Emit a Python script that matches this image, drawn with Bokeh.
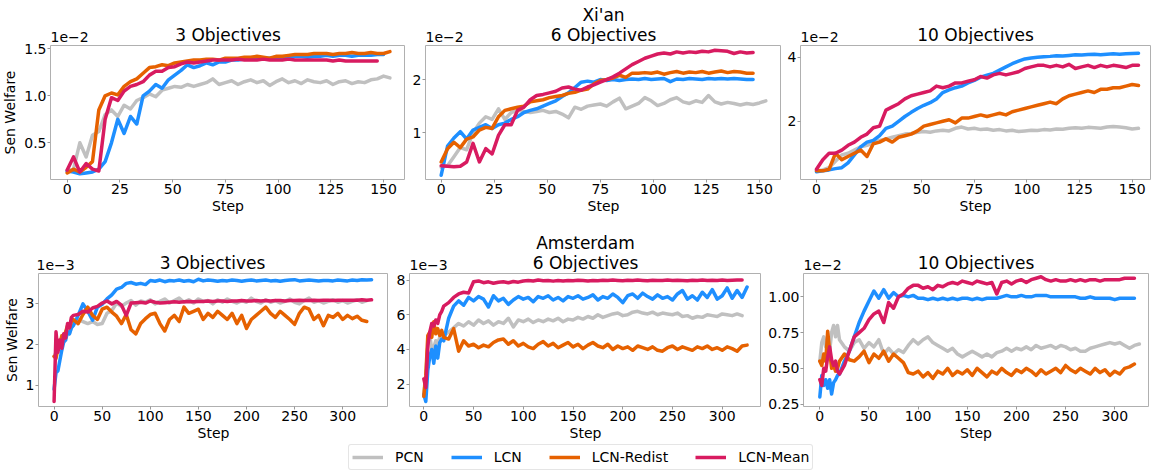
from bokeh.plotting import figure
from bokeh.layouts import column, row
from bokeh.models import Range1d, FixedTicker, PrintfTickFormatter
from bokeh.core.properties import value
from bokeh.embed import file_html
from bokeh.resources import INLINE

FONT = "DejaVu Sans"

# training steps at which the curves are sampled
STEPS_TOP = list(range(0, 154, 3))
STEPS_BOTTOM = [0, 2, 4, 6, 8, 10, 12, 14, 16, 18, 20] + list(range(25, 331, 5))

SERIES = ["PCN", "LCN", "LCN-Redist", "LCN-Mean"]
COLORS = ["#c0c0c0", "#1e8fff", "#e66100", "#d81b60"]

TICKS_TOP_X = [0, 25, 50, 75, 100, 125, 150]
TICKS_BOTTOM_X = [0, 50, 100, 150, 200, 250, 300]

CITIES = ["Xi'an", "Amsterdam"]
PANEL_TITLES = ["3 Objectives", "6 Objectives", "10 Objectives"]

# ---- Xi'an, 3 objectives (x 1e-2) ----
xian3_pcn = [0.20, 0.22, 0.50, 0.35, 0.58, 0.62, 0.80, 0.85, 0.78, 0.90,
             0.86, 0.95, 0.98, 1.02, 0.99, 1.06, 1.08, 1.10, 1.09, 1.12,
             1.10, 1.12, 1.14, 1.18, 1.12, 1.14, 1.16, 1.12, 1.15, 1.17,
             1.14, 1.16, 1.11, 1.15, 1.18, 1.14, 1.16, 1.13, 1.17, 1.15,
             1.14, 1.16, 1.12, 1.15, 1.16, 1.13, 1.15, 1.14, 1.17, 1.18,
             1.21, 1.19]
xian3_lcn = [0.20, 0.19, 0.17, 0.18, 0.19, 0.22, 0.30, 0.50, 0.75, 0.60,
             0.78, 0.70, 1.00, 1.05, 1.12, 1.08, 1.17, 1.22, 1.27, 1.33,
             1.30, 1.32, 1.35, 1.33, 1.36, 1.36, 1.38, 1.38, 1.39, 1.39,
             1.40, 1.40, 1.40, 1.41, 1.40, 1.41, 1.42, 1.42, 1.41, 1.42,
             1.42, 1.43, 1.42, 1.43, 1.43, 1.42, 1.43, 1.43, 1.43, 1.44,
             1.44]
xian3_redist = [0.18, 0.22, 0.19, 0.24, 0.30, 0.85, 1.00, 1.03, 1.01, 1.10,
                1.15, 1.18, 1.24, 1.30, 1.31, 1.33, 1.32, 1.35, 1.36, 1.37,
                1.38, 1.38, 1.39, 1.39, 1.38, 1.40, 1.40, 1.40, 1.41, 1.41,
                1.42, 1.41, 1.40, 1.42, 1.42, 1.43, 1.44, 1.44, 1.44, 1.45,
                1.45, 1.45, 1.44, 1.45, 1.45, 1.46, 1.45, 1.45, 1.46, 1.45,
                1.45, 1.47]
xian3_mean = [0.21, 0.35, 0.19, 0.28, 0.22, 0.20, 0.75, 0.98, 0.95, 1.05,
              1.10, 1.12, 1.15, 1.22, 1.26, 1.26, 1.30, 1.31, 1.34, 1.36,
              1.35, 1.36, 1.37, 1.38, 1.38, 1.38, 1.38, 1.39, 1.38, 1.38,
              1.38, 1.39, 1.38, 1.38, 1.38, 1.39, 1.38, 1.38, 1.38, 1.38,
              1.38, 1.38, 1.37, 1.38, 1.37, 1.37, 1.37, 1.37, 1.37, 1.37]

# ---- Xi'an, 6 objectives (x 1e-2) ----
xian6_pcn = [0.35, 0.38, 0.55, 0.72, 0.68, 1.00, 1.18, 1.30, 1.25, 1.45,
             1.25, 1.38, 1.42, 1.40, 1.38, 1.40, 1.42, 1.38, 1.40, 1.35,
             1.28, 1.48, 1.44, 1.50, 1.52, 1.54, 1.50, 1.58, 1.65, 1.45,
             1.50, 1.55, 1.66, 1.60, 1.51, 1.55, 1.62, 1.66, 1.58, 1.55,
             1.60, 1.57, 1.70, 1.58, 1.54, 1.57, 1.55, 1.52, 1.55, 1.53,
             1.56, 1.60]
xian6_lcn = [0.20, 0.75, 0.90, 1.02, 0.88, 1.05, 1.10, 1.15, 1.08, 1.15,
             1.18, 1.25, 1.30, 1.38, 1.42, 1.45, 1.50, 1.55, 1.60, 1.68,
             1.75, 1.85, 1.95, 1.97, 1.95, 2.00, 1.98, 2.00, 1.98, 2.00,
             2.01, 2.00, 2.02, 2.00, 2.01, 2.02, 1.96, 2.01, 2.00, 2.02,
             2.01, 2.00, 2.02, 2.01, 2.02, 2.01, 2.02, 2.01, 2.00, 2.00]
xian6_redist = [0.45, 0.70, 0.82, 0.72, 0.88, 0.92, 1.05, 1.10, 1.08, 1.30,
                1.42, 1.45, 1.48, 1.50, 1.58, 1.60, 1.62, 1.66, 1.68, 1.70,
                1.74, 1.76, 1.80, 1.82, 1.92, 1.98, 2.00, 2.03, 2.08, 2.04,
                2.12, 2.12, 2.13, 2.12, 2.14, 2.10, 2.13, 2.15, 2.12, 2.14,
                2.13, 2.15, 2.12, 2.14, 2.16, 2.13, 2.15, 2.14, 2.12, 2.12]
xian6_mean = [0.38, 0.37, 0.36, 0.37, 0.45, 0.80, 0.45, 0.70, 0.60, 0.95,
              1.15, 1.15, 1.42, 1.48, 1.62, 1.70, 1.72, 1.75, 1.78, 1.84,
              1.86, 1.82, 1.80, 1.86, 1.90, 1.95, 2.00, 2.05, 2.12, 2.20,
              2.28, 2.34, 2.40, 2.44, 2.48, 2.50, 2.48, 2.52, 2.50, 2.52,
              2.51, 2.53, 2.52, 2.55, 2.54, 2.53, 2.49, 2.52, 2.50, 2.51]

# ---- Xi'an, 10 objectives (x 1e-2) ----
xian10_pcn = [0.45, 0.48, 0.55, 0.75, 0.95, 1.00, 1.10, 1.20, 1.25, 1.32,
              1.40, 1.45, 1.50, 1.55, 1.60, 1.62, 1.66, 1.68, 1.66, 1.70,
              1.72, 1.70, 1.78, 1.82, 1.76, 1.78, 1.74, 1.76, 1.72, 1.74,
              1.70, 1.72, 1.68, 1.70, 1.72, 1.71, 1.74, 1.73, 1.76, 1.75,
              1.78, 1.80, 1.78, 1.81, 1.80, 1.78, 1.82, 1.84, 1.82, 1.80,
              1.76, 1.78]
xian10_lcn = [0.42, 0.45, 0.48, 0.52, 0.55, 0.70, 0.95, 1.20, 1.35, 1.40,
              1.55, 1.78, 1.85, 2.00, 2.15, 2.28, 2.40, 2.50, 2.58, 2.70,
              2.90, 2.98, 3.05, 3.10, 3.20, 3.28, 3.38, 3.44, 3.50, 3.60,
              3.70, 3.80, 3.88, 3.95, 3.98, 4.00, 4.02, 4.03, 4.05, 4.04,
              4.06, 4.08, 4.07, 4.09, 4.10, 4.08, 4.10, 4.11, 4.10, 4.11,
              4.12, 4.13]
xian10_redist = [0.45, 0.45, 0.50, 1.00, 0.80, 0.90, 1.00, 1.10, 0.90, 1.30,
                 1.35, 1.45, 1.35, 1.50, 1.55, 1.60, 1.70, 1.85, 1.90, 1.95,
                 2.00, 2.05, 1.95, 2.10, 2.10, 2.15, 2.20, 2.15, 2.20, 2.25,
                 2.20, 2.30, 2.35, 2.40, 2.45, 2.50, 2.55, 2.60, 2.55, 2.70,
                 2.80, 2.85, 2.90, 2.95, 2.90, 3.00, 3.00, 3.05, 3.05, 3.10,
                 3.15, 3.12]
xian10_mean = [0.50, 0.80, 1.00, 1.00, 1.10, 1.25, 1.35, 1.50, 1.60, 1.80,
               1.85, 2.35, 2.45, 2.55, 2.70, 2.80, 2.85, 2.90, 2.95, 3.10,
               3.05, 3.10, 3.20, 3.20, 3.25, 3.30, 3.40, 3.35, 3.45, 3.50,
               3.45, 3.50, 3.55, 3.65, 3.70, 3.75, 3.75, 3.70, 3.75, 3.70,
               3.78, 3.65, 3.70, 3.75, 3.68, 3.75, 3.70, 3.75, 3.72, 3.68,
               3.75, 3.75]

# ---- Amsterdam, 3 objectives (x 1e-3) ----
ams3_pcn = [1.70, 1.80, 2.00, 1.95, 2.10, 2.05, 2.20, 2.30, 2.25, 2.40, 2.50,
            2.60, 2.55, 2.50, 2.55, 2.48, 2.50, 2.75, 2.82, 3.00, 2.92,
            3.00, 3.06, 2.95, 3.05, 3.02, 3.08, 2.98, 3.04, 3.10, 3.00,
            3.06, 3.12, 3.02, 3.08, 3.00, 3.10, 3.04, 3.06, 2.98, 3.08,
            3.02, 3.10, 3.04, 3.00, 3.06, 3.02, 3.12, 3.04, 3.00, 3.08,
            3.02, 3.06, 3.00, 3.04, 3.10, 3.02, 2.98, 3.06, 3.12, 3.02,
            3.06, 3.00, 3.04, 3.08, 3.02, 3.06, 3.00, 3.04, 3.08, 3.02,
            3.06]
ams3_lcn = [0.90, 1.30, 1.35, 1.60, 1.85, 2.05, 2.10, 2.30, 2.25, 2.40, 2.45,
            2.70, 2.98, 2.80, 2.58, 2.90, 2.97, 3.10, 3.20, 3.34, 3.38,
            3.48, 3.50, 3.46, 3.48, 3.45, 3.55, 3.53, 3.56, 3.52, 3.55,
            3.54, 3.56, 3.53, 3.55, 3.52, 3.58, 3.54, 3.56, 3.55, 3.53,
            3.55, 3.54, 3.56, 3.55, 3.53, 3.55, 3.56, 3.54, 3.55, 3.56,
            3.54, 3.55, 3.53, 3.55, 3.56, 3.57, 3.54, 3.55, 3.56, 3.55,
            3.54, 3.55, 3.55, 3.54, 3.56, 3.55, 3.54, 3.56, 3.55, 3.57,
            3.56, 3.57]
ams3_redist = [1.70, 1.65, 1.90, 2.00, 2.20, 2.15, 2.30, 2.45, 2.40, 2.55, 2.60,
               2.50, 2.72, 2.90, 2.70, 2.60, 2.85, 2.90, 2.78, 2.68, 2.50,
               2.72, 2.35, 2.25, 2.50, 2.62, 2.72, 2.75, 2.50, 2.32, 2.60,
               2.70, 2.55, 2.90, 2.75, 2.80, 2.85, 2.60, 2.75, 2.65, 2.80,
               2.70, 2.60, 2.75, 2.50, 2.70, 2.38, 2.60, 2.70, 2.80, 2.90,
               2.75, 2.65, 2.80, 2.70, 2.60, 2.48, 2.75, 2.90, 2.85, 2.60,
               2.70, 2.45, 2.70, 2.65, 2.75, 2.60, 2.70, 2.62, 2.68, 2.58,
               2.55]
ams3_mean = [0.60, 2.30, 1.80, 2.10, 1.90, 2.25, 2.15, 2.50, 2.40, 2.65, 2.70,
             2.72, 2.80, 2.78, 2.88, 2.92, 3.00, 3.05, 2.98, 3.04, 2.95,
             2.70, 3.00, 3.01, 3.02, 3.00, 3.05, 3.02, 3.00, 3.01, 3.02,
             3.03, 3.02, 3.03, 3.04, 3.03, 3.04, 3.04, 3.05, 3.04, 3.05,
             3.05, 3.04, 3.05, 3.05, 3.06, 3.05, 3.05, 3.06, 3.05, 3.06,
             3.05, 3.06, 3.06, 3.05, 3.06, 3.06, 3.07, 3.06, 3.06, 3.07,
             3.06, 3.07, 3.07, 3.06, 3.07, 3.07, 3.07, 3.07, 3.07, 3.08,
             3.07, 3.08]

# ---- Amsterdam, 6 objectives (x 1e-3) ----
ams6_pcn = [1.50, 2.50, 4.20, 4.80, 4.00, 4.10, 4.50, 4.30, 4.70, 4.90, 4.80,
            5.00, 5.25, 5.50, 5.35, 5.60, 5.40, 5.70, 5.50, 5.65, 5.40,
            5.60, 5.50, 5.80, 5.30, 5.70, 5.60, 5.75, 5.55, 5.70, 5.60,
            5.75, 5.65, 5.80, 5.60, 5.75, 5.70, 5.85, 5.75, 5.90, 5.80,
            6.00, 5.85, 5.95, 6.05, 6.10, 5.95, 6.00, 6.15, 6.20, 6.10,
            6.05, 6.15, 6.00, 6.10, 6.05, 6.00, 6.10, 5.90, 5.95, 5.80,
            5.90, 5.85, 6.00, 5.95, 5.90, 6.05, 6.00, 5.95, 6.05, 5.95]
ams6_lcn = [1.40, 1.00, 2.80, 3.60, 4.00, 3.20, 4.20, 3.50, 4.40, 4.60, 4.50,
            5.80, 6.50, 6.80, 6.55, 7.00, 6.80, 7.05, 6.90, 6.45, 7.10,
            6.80, 6.95, 6.60, 6.85, 7.05, 6.90, 7.00, 6.75, 7.05, 6.95,
            7.10, 6.85, 7.00, 6.80, 7.05, 6.95, 7.10, 6.90, 7.00, 7.15,
            6.85, 7.05, 6.95, 7.20, 7.00, 6.70, 7.10, 7.20, 6.95, 7.25,
            7.05, 6.90, 7.15, 6.95, 7.05, 6.85, 7.20, 7.40, 6.90, 7.10,
            6.85, 7.30, 7.00, 7.45, 6.90, 7.10, 7.55, 6.95, 7.40, 7.00,
            7.60]
ams6_redist = [1.30, 2.50, 4.80, 5.00, 4.70, 5.60, 4.90, 5.20, 4.80, 5.10, 4.70,
               4.60, 5.20, 3.90, 4.50, 4.20, 4.30, 4.10, 4.25, 4.15, 4.40,
               4.55, 4.60, 4.30, 4.50, 4.20, 4.35, 4.15, 4.05, 4.30, 4.45,
               4.20, 4.35, 4.10, 4.25, 4.40, 4.15, 4.30, 4.05, 4.25, 4.40,
               4.20, 4.10, 4.30, 4.00, 4.20, 4.05, 4.15, 3.95, 4.20, 4.10,
               4.00, 4.15, 3.95, 3.90, 4.10, 4.20, 4.00, 4.15, 4.05, 3.95,
               4.15, 4.05, 4.20, 4.00, 4.10, 3.95, 4.15, 4.05, 3.90, 4.20,
               4.25]
ams6_mean = [2.30, 1.80, 4.20, 5.00, 5.50, 5.35, 5.70, 5.50, 6.00, 6.20, 6.50,
             6.70, 7.00, 7.20, 7.30, 7.25, 7.90, 7.95, 7.85, 7.90, 7.82,
             7.88, 7.90, 7.85, 7.92, 7.88, 7.95, 7.98, 7.95, 8.00, 7.96,
             7.98, 7.94, 7.97, 7.95, 7.98, 7.96, 7.99, 7.97, 7.95, 7.98,
             7.96, 7.99, 7.97, 8.00, 7.98, 7.96, 7.99, 7.97, 8.00, 7.98,
             7.96, 7.99, 7.97, 7.98, 8.00, 7.97, 7.99, 7.98, 7.96, 7.99,
             7.98, 8.00, 7.97, 7.99, 7.98, 8.00, 7.98, 7.99, 8.00, 8.00]

# ---- Amsterdam, 10 objectives (x 1e-2) ----
ams10_pcn = [0.55, 0.68, 0.72, 0.65, 0.70, 0.62, 0.75, 0.80, 0.72, 0.80, 0.70,
             0.65, 0.62, 0.68, 0.70, 0.64, 0.68, 0.65, 0.70, 0.60, 0.64,
             0.60, 0.63, 0.61, 0.66, 0.70, 0.67, 0.70, 0.72, 0.68, 0.66,
             0.64, 0.62, 0.64, 0.60, 0.58, 0.60, 0.62, 0.60, 0.58, 0.60,
             0.58, 0.61, 0.62, 0.64, 0.62, 0.64, 0.63, 0.65, 0.63, 0.66,
             0.64, 0.65, 0.66, 0.64, 0.66, 0.65, 0.63, 0.64, 0.62, 0.62,
             0.64, 0.65, 0.66, 0.67, 0.68, 0.67, 0.68, 0.66, 0.64, 0.66,
             0.67]
ams10_lcn = [0.30, 0.45, 0.38, 0.42, 0.36, 0.42, 0.32, 0.40, 0.42, 0.45, 0.46,
             0.55, 0.62, 0.72, 0.82, 0.90, 0.97, 1.04, 0.99, 1.05, 0.99,
             1.03, 1.00, 1.01, 1.00, 1.01, 0.99, 0.99, 0.98, 0.99, 0.98,
             0.99, 0.98, 0.99, 0.98, 0.99, 0.99, 0.98, 0.99, 0.98, 0.99,
             0.99, 0.99, 1.00, 1.01, 1.00, 1.00, 1.01, 1.00, 1.00, 1.01,
             1.01, 1.01, 1.00, 1.00, 1.00, 1.00, 1.00, 1.00, 0.99, 0.99,
             1.00, 0.99, 0.99, 0.99, 0.99, 0.98, 0.99, 0.99, 0.99, 0.99]
ams10_redist = [0.55, 0.52, 0.60, 0.55, 0.76, 0.62, 0.50, 0.52, 0.48, 0.50, 0.55,
                0.60, 0.56, 0.55, 0.58, 0.62, 0.54, 0.60, 0.57, 0.62, 0.55,
                0.60, 0.57, 0.54, 0.47, 0.46, 0.48, 0.44, 0.47, 0.43, 0.48,
                0.46, 0.50, 0.45, 0.48, 0.46, 0.49, 0.45, 0.50, 0.47, 0.44,
                0.48, 0.46, 0.50, 0.47, 0.45, 0.49, 0.47, 0.50, 0.48, 0.45,
                0.49, 0.46, 0.48, 0.50, 0.47, 0.52, 0.49, 0.47, 0.50, 0.48,
                0.46, 0.50, 0.47, 0.49, 0.45, 0.48, 0.46, 0.50, 0.51, 0.53]
ams10_mean = [0.42, 0.38, 0.50, 0.48, 0.58, 0.65, 0.56, 0.52, 0.55, 0.48, 0.46,
              0.52, 0.62, 0.72, 0.75, 0.78, 0.84, 0.88, 0.90, 0.82, 0.96,
              0.92, 1.00, 1.02, 1.06, 1.08, 1.08, 1.06, 1.07, 1.05, 1.08,
              1.07, 1.09, 1.10, 1.09, 1.11, 1.10, 1.09, 1.11, 1.10, 1.09,
              1.10, 1.02, 1.10, 1.11, 1.09, 1.11, 1.12, 1.10, 1.12, 1.13,
              1.14, 1.12, 1.11, 1.12, 1.11, 1.11, 1.12, 1.11, 1.12, 1.11,
              1.12, 1.12, 1.11, 1.12, 1.12, 1.12, 1.12, 1.13, 1.13, 1.13]

FRAME_COLOR = "#b0b0b0"
PAGE_W = 1151

# layout geometry: (left border, frame width, right border) per panel.
# The first top panel's y axis lives in its own full-height strip so that
# its top tick label can rise above the frame next to the header.
TOP_AXIS_W = 50
TOP_GEOM = [(0, 355, 0), (20, 356, 0), (19, 350, 1)]
BOT_GEOM = [(36, 352, 0), (21, 352, 0), (42, 345, 3)]
TOP_HEADER_H, TOP_FRAME_H, TOP_BOTTOM_H = 44, 134, 45
BOT_HEADER_H, BOT_FRAME_H, BOT_BOTTOM_H = 48, 133, 38
LEGEND_H = 26
# the text glyph draws its alphabetic baseline this many px below y
BASELINE_DROP = 7


def style_axis(ax):
    ax.axis_line_color = None
    ax.major_tick_line_color = "#999999"
    ax.major_tick_out = 3
    ax.major_tick_in = 0
    ax.minor_tick_line_color = None
    ax.major_label_text_font = FONT
    ax.major_label_text_font_size = "14px"
    ax.major_label_text_color = "black"
    ax.major_label_standoff = 1
    ax.axis_label_text_font = FONT
    ax.axis_label_text_font_size = "14px"
    ax.axis_label_text_font_style = "normal"
    ax.axis_label_text_color = "black"


def style_y_axis(ax, y_ticks, y_fmt, ylabel):
    style_axis(ax)
    ax.ticker = FixedTicker(ticks=y_ticks)
    ax.formatter = PrintfTickFormatter(format=y_fmt)
    if ylabel:
        ax.axis_label = ylabel
        ax.axis_label_standoff = 3


def make_panel(steps, series, x_range, y_range, y_ticks, y_fmt, x_ticks,
               geom, frame_h, bottom_h, ylabel=None, y_axis=True):
    left, frame_w, right = geom
    p = figure(width=left + frame_w + right, height=1 + frame_h + bottom_h,
               x_range=Range1d(*x_range), y_range=Range1d(*y_range),
               output_backend="svg", toolbar_location=None, title=None,
               y_axis_location="left" if y_axis else None,
               min_border_left=left, min_border_right=right,
               min_border_top=1, min_border_bottom=bottom_h)
    p.xgrid.visible = False
    p.ygrid.visible = False
    p.outline_line_color = FRAME_COLOR
    p.outline_line_width = 1
    p.background_fill_color = "white"
    p.border_fill_color = "white"

    style_axis(p.xaxis[0])
    p.xaxis[0].ticker = FixedTicker(ticks=x_ticks)
    p.xaxis[0].axis_label = "Step"
    p.xaxis[0].axis_label_standoff = 1
    if y_axis:
        style_y_axis(p.yaxis[0], y_ticks, y_fmt, ylabel)

    for vals, color in zip(series, COLORS):
        p.line(steps[:len(vals)], vals, line_color=color, line_width=3.5,
               line_join="round", line_cap="round")
    return p


def make_y_strip(y_range, y_ticks, y_fmt, ylabel, width, header_h, frame_h, bottom_h):
    """Free-standing y axis spanning the header and panel heights."""
    s = figure(width=width, height=header_h + 1 + frame_h + bottom_h,
               x_range=Range1d(0, 1), y_range=Range1d(*y_range),
               output_backend="svg", toolbar_location=None, title=None,
               x_axis_type=None,
               min_border_left=width - 1, min_border_right=0,
               min_border_top=header_h + 1, min_border_bottom=bottom_h)
    s.xgrid.visible = False
    s.ygrid.visible = False
    s.outline_line_color = None
    s.background_fill_color = "white"
    s.border_fill_color = "white"
    style_y_axis(s.yaxis[0], y_ticks, y_fmt, ylabel)
    return s


def make_header(geom, width, height, city, offset_texts):
    """Strip above a row of panels holding panel titles, the city name and
    the scientific-notation multipliers. y runs downward in px; the frames
    of the row below start at y = height + 1."""
    h = figure(width=width, height=height,
               x_range=Range1d(0, width), y_range=Range1d(height, 0),
               output_backend="svg", toolbar_location=None, title=None,
               x_axis_type=None, y_axis_type=None,
               min_border_left=0, min_border_right=0,
               min_border_top=0, min_border_bottom=0)
    h.xgrid.visible = False
    h.ygrid.visible = False
    h.outline_line_color = None
    lefts, centers = [], []
    x = 0
    for left, frame_w, right in geom:
        lefts.append(x + left)
        centers.append(x + left + frame_w / 2)
        x += left + frame_w + right
    frame_top = height + 1
    h.text(x=centers, y=[frame_top - 4 - BASELINE_DROP] * 3, text=PANEL_TITLES,
           text_align="center", text_baseline="alphabetic",
           text_font=value(FONT), text_font_size=value("17px"),
           text_color="black")
    h.text(x=[centers[1]], y=[frame_top - 24 - BASELINE_DROP], text=[city],
           text_align="center", text_baseline="alphabetic",
           text_font=value(FONT), text_font_size=value("17px"),
           text_color="black")
    h.text(x=lefts, y=[frame_top - 2 - BASELINE_DROP] * 3, text=offset_texts,
           text_align="left", text_baseline="alphabetic",
           text_font=value(FONT), text_font_size=value("14px"),
           text_color="black")
    return h


XIAN3_Y = (0.110, 1.535)

top_header = make_header(TOP_GEOM, PAGE_W - TOP_AXIS_W, TOP_HEADER_H, CITIES[0],
                         ["1e\u22122", "1e\u22122", "1e\u22122"])
bot_header = make_header(BOT_GEOM, PAGE_W, BOT_HEADER_H, CITIES[1],
                         ["1e\u22123", "1e\u22123", "1e\u22122"])

y_strip = make_y_strip(XIAN3_Y, [0.5, 1.0, 1.5], "%.1f", "Sen Welfare",
                       TOP_AXIS_W, TOP_HEADER_H, TOP_FRAME_H, TOP_BOTTOM_H)

p1 = make_panel(STEPS_TOP, [xian3_pcn, xian3_lcn, xian3_redist, xian3_mean],
                (-7.9, 160.4), XIAN3_Y, [0.5, 1.0, 1.5], "%.1f",
                TICKS_TOP_X, TOP_GEOM[0], TOP_FRAME_H, TOP_BOTTOM_H,
                y_axis=False)
p2 = make_panel(STEPS_TOP, [xian6_pcn, xian6_lcn, xian6_redist, xian6_mean],
                (-7.4, 160.4), (0.12, 2.64), [1, 2], "%d",
                TICKS_TOP_X, TOP_GEOM[1], TOP_FRAME_H, TOP_BOTTOM_H)
p3 = make_panel(STEPS_TOP, [xian10_pcn, xian10_lcn, xian10_redist, xian10_mean],
                (-7.6, 158.7), (0.18, 4.37), [2, 4], "%d",
                TICKS_TOP_X, TOP_GEOM[2], TOP_FRAME_H, TOP_BOTTOM_H)

p4 = make_panel(STEPS_BOTTOM, [ams3_pcn, ams3_lcn, ams3_redist, ams3_mean],
                (-16.2, 347.6), (0.48, 3.72), [1, 2, 3], "%d",
                TICKS_BOTTOM_X, BOT_GEOM[0], BOT_FRAME_H, BOT_BOTTOM_H,
                ylabel="Sen Welfare")
p5 = make_panel(STEPS_BOTTOM, [ams6_pcn, ams6_lcn, ams6_redist, ams6_mean],
                (-14.4, 339.5), (0.71, 8.38), [2, 4, 6, 8], "%d",
                TICKS_BOTTOM_X, BOT_GEOM[1], BOT_FRAME_H, BOT_BOTTOM_H)
p6 = make_panel(STEPS_BOTTOM, [ams10_pcn, ams10_lcn, ams10_redist, ams10_mean],
                (-16.6, 334.3), (0.233, 1.163), [0.25, 0.50, 0.75, 1.00], "%.2f",
                TICKS_BOTTOM_X, BOT_GEOM[2], BOT_FRAME_H, BOT_BOTTOM_H)

# shared legend strip under the panels
leg_fig = figure(width=PAGE_W, height=LEGEND_H, x_range=Range1d(0, 1),
                 y_range=Range1d(0, 1), output_backend="svg",
                 toolbar_location=None, title=None,
                 x_axis_type=None, y_axis_type=None,
                 min_border_left=0, min_border_right=0,
                 min_border_top=0, min_border_bottom=0)
leg_fig.xgrid.visible = False
leg_fig.ygrid.visible = False
leg_fig.outline_line_color = None
for name, color in zip(SERIES, COLORS):
    # off-screen stand-in so the legend can draw each series' swatch
    leg_fig.line(x=[0, 1], y=[-5, -5], line_color=color, line_width=3.5,
                 legend_label=name)
legend = leg_fig.legend[0]
legend.orientation = "horizontal"
legend.location = (348, 0)
legend.padding = 3
legend.spacing = 27
legend.glyph_width = 31
legend.glyph_height = 18
legend.label_height = 18
legend.label_standoff = 12
legend.label_text_font = FONT
legend.label_text_font_size = "14px"
legend.label_text_color = "black"
legend.border_line_color = "#cccccc"
legend.border_line_width = 1
legend.border_radius = 3
legend.background_fill_color = "white"
legend.background_fill_alpha = 0.8
legend.margin = 0

top_block = row(y_strip, column(top_header, row(p1, p2, p3)))
layout = column(top_block, bot_header, row(p4, p5, p6), leg_fig)

open("out.html", "w").write(file_html(layout, INLINE))
